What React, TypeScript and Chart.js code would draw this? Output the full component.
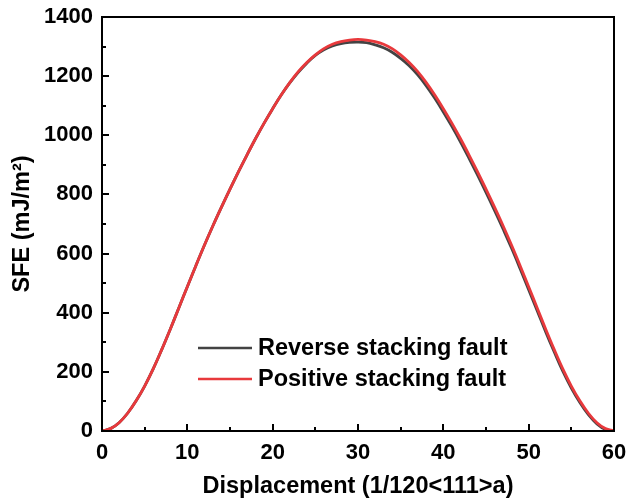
import React, { useEffect, useRef } from "react";
import { Chart, registerables } from "chart.js";

Chart.register(...registerables);

const displacement = [
  0, 1, 2, 3, 4, 5, 6, 7, 8, 9, 10, 11, 12, 13, 14, 15, 16, 17, 18, 19, 20,
  21, 22, 23, 24, 25, 26, 27, 28, 29, 30, 31, 32, 33, 34, 35, 36, 37, 38, 39, 40,
  41, 42, 43, 44, 45, 46, 47, 48, 49, 50, 51, 52, 53, 54, 55, 56, 57, 58, 59, 60,
];

const reverseSFE = [
  0, 8, 28, 60, 102, 152, 210, 275, 344, 416, 488, 559, 628, 694, 757, 818, 877, 934, 989, 1041, 1090,
  1136, 1177, 1213, 1244, 1270, 1289, 1302, 1310, 1314, 1315, 1313, 1306, 1296, 1281, 1260, 1235, 1204, 1167, 1125, 1079,
  1030, 978, 923, 866, 807, 746, 683, 618, 549, 478, 407, 335, 267, 202, 145, 96, 55, 24, 5, 0,
];

const positiveSFE = [
  0, 8, 28, 60, 102, 152, 210, 275, 344, 416, 488, 559, 628, 694, 757, 818, 877, 934, 989, 1041, 1090,
  1136, 1178, 1215, 1246, 1272, 1293, 1308, 1317, 1322, 1324, 1322, 1317, 1308, 1293, 1272, 1246, 1215, 1178, 1136, 1090,
  1041, 989, 934, 877, 818, 757, 694, 628, 559, 488, 416, 344, 275, 210, 152, 102, 60, 28, 8, 1,
];

const seriesLabels = ["Reverse stacking fault", "Positive stacking fault"];
const seriesColors = ["#434343", "#e8393c"];
const xTicks = [0, 10, 20, 30, 40, 50, 60];
const yTicks = [0, 200, 400, 600, 800, 1000, 1200, 1400];
const xTitle = "Displacement (1/120<111>a)";
const yTitle = "SFE (mJ/m\u00B2)";

const FONT = "'Liberation Sans', Arial, sans-serif";

const framePlugin = {
  id: "frameTicksLegend",
  afterDraw(chart: any) {
    const { ctx, chartArea: a, scales } = chart;
    const xs = scales.x;
    const ys = scales.y;
    ctx.save();
    ctx.strokeStyle = "#000";
    ctx.lineWidth = 2;
    ctx.strokeRect(a.left, a.top, a.right - a.left, a.bottom - a.top);

    ctx.beginPath();
    for (let i = 0; i < xTicks.length; i++) {
      const px = Math.round(xs.getPixelForValue(xTicks[i]));
      ctx.moveTo(px, a.bottom);
      ctx.lineTo(px, a.bottom - 7);
      if (i < xTicks.length - 1) {
        const mx = Math.round(xs.getPixelForValue((xTicks[i] + xTicks[i + 1]) / 2));
        ctx.moveTo(mx, a.bottom);
        ctx.lineTo(mx, a.bottom - 4);
      }
    }
    for (let i = 0; i < yTicks.length; i++) {
      const py = Math.round(ys.getPixelForValue(yTicks[i]));
      ctx.moveTo(a.left, py);
      ctx.lineTo(a.left + 7, py);
      if (i < yTicks.length - 1) {
        const my = Math.round(ys.getPixelForValue((yTicks[i] + yTicks[i + 1]) / 2));
        ctx.moveTo(a.left, my);
        ctx.lineTo(a.left + 4, my);
      }
    }
    ctx.stroke();

    // legend
    const lx = a.left + 96;
    const ly = a.top + 331;
    ctx.font = `bold 23.5px ${FONT}`;
    ctx.textBaseline = "middle";
    ctx.textAlign = "left";
    chart.data.datasets.forEach((ds: any, i: number) => {
      const y = ly + i * 31;
      ctx.strokeStyle = ds.borderColor;
      ctx.lineWidth = 2.5;
      ctx.beginPath();
      ctx.moveTo(lx, y);
      ctx.lineTo(lx + 54, y);
      ctx.stroke();
      ctx.fillStyle = "#000";
      ctx.fillText(ds.label, lx + 60, y + 1);
    });
    ctx.restore();
  },
};

export default function App() {
  const ref = useRef<HTMLCanvasElement | null>(null);
  useEffect(() => {
    if (!ref.current) return;
    const chart = new Chart(ref.current, {
      type: "line",
      data: {
        datasets: [
          {
            label: seriesLabels[0],
            data: displacement.map((x, i) => ({ x, y: reverseSFE[i] })),
            borderColor: seriesColors[0],
            borderWidth: 2.8,
            pointRadius: 0,
            tension: 0.4,
            order: 1,
          },
          {
            label: seriesLabels[1],
            data: displacement.map((x, i) => ({ x, y: positiveSFE[i] })),
            borderColor: seriesColors[1],
            borderWidth: 2.8,
            pointRadius: 0,
            tension: 0.4,
            order: 0,
          },
        ],
      },
      options: {
        animation: false,
        responsive: false,
        layout: { padding: { left: 0, right: 12, top: 17, bottom: 0 } },
        plugins: { legend: { display: false }, tooltip: { enabled: false } },
        scales: {
          x: {
            type: "linear",
            min: 0,
            max: 60,
            afterBuildTicks: (s: any) => {
              s.ticks = xTicks.map((v) => ({ value: v }));
            },
            afterFit: (s: any) => {
              s.height = 73;
              s.paddingLeft = 0;
              s.paddingRight = 0;
            },
            grid: { display: false, drawTicks: false },
            border: { display: false },
            ticks: {
              color: "#000",
              padding: 9,
              maxRotation: 0,
              callback: (v: any) => String(v),
              font: { family: FONT, size: 22, weight: "bold" },
            },
            title: {
              display: true,
              text: xTitle,
              color: "#000",
              padding: { top: 0, bottom: 3 },
              font: { family: FONT, size: 23.5, weight: "bold", lineHeight: 1.2 },
            },
          },
          y: {
            type: "linear",
            min: 0,
            max: 1400,
            afterBuildTicks: (s: any) => {
              s.ticks = yTicks.map((v) => ({ value: v }));
            },
            afterFit: (s: any) => {
              s.width = 102;
              s.paddingTop = 0;
              s.paddingBottom = 0;
            },
            grid: { display: false, drawTicks: false },
            border: { display: false },
            ticks: {
              color: "#000",
              padding: 9,
              callback: (v: any) => String(v),
              font: { family: FONT, size: 22, weight: "bold" },
            },
            title: {
              display: true,
              text: yTitle,
              color: "#000",
              padding: { top: 8, bottom: 0 },
              font: { family: FONT, size: 23.5, weight: "bold", lineHeight: 1.2 },
            },
          },
        },
      },
      plugins: [framePlugin],
    } as any);
    return () => chart.destroy();
  }, []);
  return (
    <div style={{ position: "fixed", left: 0, top: 0, width: 626, height: 504, background: "#fff" }}>
      <canvas ref={ref} width={626} height={504} style={{ display: "block" }} />
    </div>
  );
}
